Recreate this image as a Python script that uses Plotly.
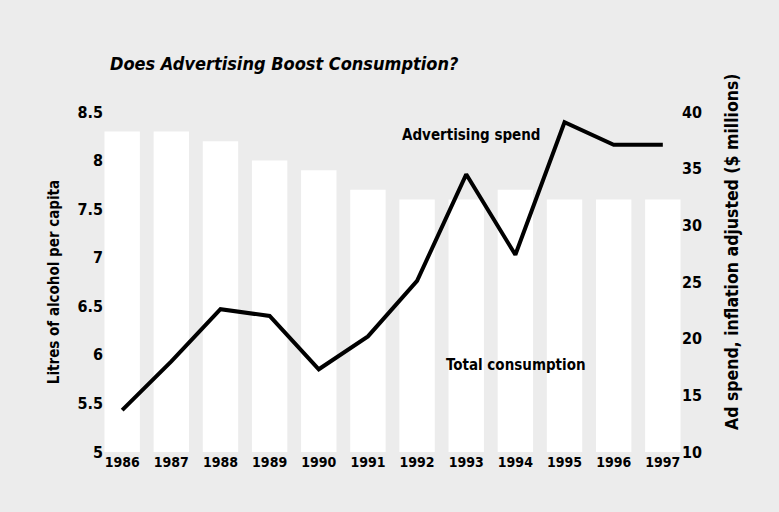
import plotly.graph_objects as go

years = ["1986", "1987", "1988", "1989", "1990", "1991", "1992", "1993", "1994", "1995", "1996", "1997"]
consumption = [8.3, 8.3, 8.2, 8.0, 7.9, 7.7, 7.6, 7.6, 7.7, 7.6, 7.6, 7.6]
ad_spend = [13.7, 18.0, 22.6, 22.0, 17.3, 20.2, 25.1, 34.5, 27.4, 39.1, 37.1, 37.1]

left_ticks = [5, 5.5, 6, 6.5, 7, 7.5, 8, 8.5]
right_ticks = [10, 15, 20, 25, 30, 35, 40]

FONT = "DejaVu Sans Condensed, Liberation Sans Narrow, Arial Narrow, sans-serif"
BG = "#ececec"

fig = go.Figure()
fig.add_trace(go.Bar(x=years, y=consumption, base=0, marker=dict(color="white", line=dict(width=0)),
                     yaxis="y", name="Total consumption", showlegend=False))
fig.add_trace(go.Scatter(x=years, y=ad_spend, mode="lines", line=dict(color="black", width=4),
                         yaxis="y2", name="Advertising spend", showlegend=False))

fig.update_layout(
    width=779, height=512,
    margin=dict(l=104, r=98, t=112, b=60),
    paper_bgcolor=BG, plot_bgcolor=BG,
    bargap=0.28,
    font=dict(family=FONT, color="black", size=15),
    xaxis=dict(type="category", range=[-0.37, 11.37], showgrid=False, zeroline=False,
               showline=False, ticks="", tickfont=dict(family=FONT, size=14, weight="bold")),
    yaxis=dict(range=[5, 8.5], tickvals=left_ticks, showgrid=False, zeroline=False, showline=False,
               ticks="", tickfont=dict(family=FONT, size=16, weight="bold"),
               title=dict(text="Litres of alcohol per capita", standoff=14,
                          font=dict(family=FONT, size=15, weight="bold"))),
    yaxis2=dict(range=[10, 40], tickvals=right_ticks, overlaying="y", side="right", showgrid=False,
                zeroline=False, showline=False, ticks="",
                tickfont=dict(family=FONT, size=16, weight="bold")),
    annotations=[
        dict(text="Does Advertising Boost Consumption?", xref="paper", yref="paper",
             x=(108 - 104) / 577, y=1 + (112 - 63) / 340, xanchor="left", yanchor="middle",
             showarrow=False, font=dict(family=FONT, size=18, weight="bold", style="italic")),
        dict(text="Advertising spend", xref="paper", yref="paper",
             x=(471 - 104) / 577, y=1 - (135 - 112) / 340, xanchor="center", yanchor="middle",
             showarrow=False, font=dict(family=FONT, size=15, weight="bold")),
        dict(text="Total consumption", xref="paper", yref="paper",
             x=(516 - 104) / 577, y=1 - (365 - 112) / 340, xanchor="center", yanchor="middle",
             showarrow=False, font=dict(family=FONT, size=15, weight="bold")),
        dict(text="Ad spend, inflation adjusted ($ millions)", xref="paper", yref="paper",
             x=(732 - 104) / 577, y=1 - (252 - 112) / 340, xanchor="center", yanchor="middle",
             textangle=-90, showarrow=False, font=dict(family=FONT, size=17.5, weight="bold")),
    ],
)

fig.write_html("out.html", config={"displayModeBar": False},
               post_script="document.body.style.margin='0';document.body.style.overflow='hidden';")
